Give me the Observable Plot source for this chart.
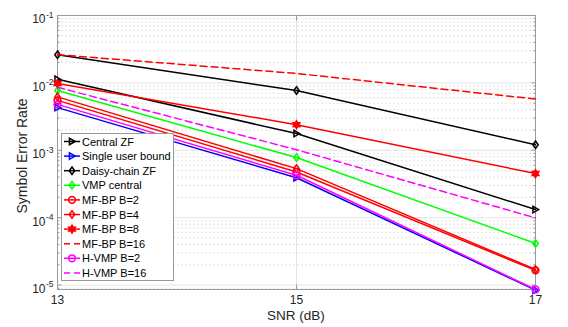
<!DOCTYPE html>
<html><head><meta charset="utf-8">
<script src="https://cdn.jsdelivr.net/npm/d3@7"></script>
<script src="https://cdn.jsdelivr.net/npm/@observablehq/plot@0.6"></script>
<style>body{margin:0;background:#fff}</style>
</head><body><div id="chart"></div>
<script>
// ---- data ----
const snr = [13, 15, 17];
const xTicks = [13, 15, 17];
const yTickExponents = [-1, -2, -3, -4, -5];
const seriesNames = ["Central ZF", "Single user bound", "Daisy-chain ZF", "VMP central", "MF-BP B=2", "MF-BP B=4", "MF-BP B=8", "MF-BP B=16", "H-VMP B=2", "H-VMP B=16"];
const centralZF  = [0.0113, 0.00177, 0.000132];
const singleUser = [0.0043, 0.000392, 0.0000084];
const daisyZF    = [0.0262, 0.0077, 0.00121];
const vmpCentral = [0.0077, 0.00078, 0.0000415];
const mfbp2      = [0.0055, 0.000477, 0.0000165];
const mfbp4      = [0.0062, 0.000535, 0.0000170];
const mfbp8      = [0.0098, 0.0024, 0.000452];
const mfbp16     = [0.0262, 0.0138, 0.00577];
const hvmp2      = [0.0048, 0.000426, 0.0000086];
const hvmp16     = [0.0086, 0.00102, 0.0000993];
const seriesValues = [centralZF, singleUser, daisyZF, vmpCentral, mfbp2, mfbp4, mfbp8, mfbp16, hvmp2, hvmp16];

// ---- styles ----
const seriesColors = ["#000000", "#0000ff", "#000000", "#00ff00", "#ff0000", "#ff0000", "#ff0000", "#ff0000", "#ff00ff", "#ff00ff"];
const seriesMarkers = ["triRight", "triRight", "diamond", "diamond", "circle", "diamond", "hexagram", null, "circle", null];
const seriesDashed = [false, false, false, false, false, false, false, true, false, true];

const symbols = {
  triRight: {draw(c, s) { const r = Math.sqrt(s / Math.PI); c.moveTo(0.95 * r, 0); c.lineTo(-0.75 * r, -0.95 * r); c.lineTo(-0.75 * r, 0.95 * r); c.closePath(); }},
  diamond: {draw(c, s) { const r = Math.sqrt(s / Math.PI); c.moveTo(0, -1.1 * r); c.lineTo(0.8 * r, 0); c.lineTo(0, 1.1 * r); c.lineTo(-0.8 * r, 0); c.closePath(); }},
  circle: {draw(c, s) { const r = Math.sqrt(s / Math.PI); c.moveTo(r, 0); c.arc(0, 0, r, 0, 2 * Math.PI); }},
  hexagram: {draw(c, s) { const r = Math.sqrt(s / Math.PI) * 1.15, ri = r * 0.58;
    for (let i = 0; i < 12; i++) { const a = -Math.PI / 2 + i * Math.PI / 6, rr = i % 2 ? ri : r;
      if (i === 0) c.moveTo(rr * Math.cos(a), rr * Math.sin(a)); else c.lineTo(rr * Math.cos(a), rr * Math.sin(a)); }
    c.closePath(); }}
};

const rows = [];
seriesNames.forEach((name, i) => snr.forEach((x, j) => rows.push({series: name, snr: x, ser: seriesValues[i][j]})));

const majorY = yTickExponents.map(e => Math.pow(10, e));
const yMin = 8.6e-6, yMax = 0.1;
const minorY = [];
for (let e = -6; e <= -2; e++) for (let m = 2; m <= 9; m++) { const v = m * Math.pow(10, e); if (v >= yMin && v <= yMax) minorY.push(v); }

const font = "'Liberation Sans', Arial, Helvetica, sans-serif";
const axisColor = "#999999";
const textColor = "#262626";

const marks = [
  Plot.ruleY(minorY, {stroke: "#d8d8d8", strokeWidth: 0.8, strokeDasharray: "2,2"}),
  Plot.ruleY(majorY, {stroke: "#e4e4e4", strokeWidth: 1}),
  Plot.ruleX(xTicks, {stroke: "#e4e4e4", strokeWidth: 1}),
  // inward ticks
  Plot.axisY({anchor: "left", ticks: minorY, tickSize: 2.5, dx: 2.5, tickFormat: () => "", stroke: axisColor, label: null}),
  Plot.axisY({anchor: "right", ticks: minorY, tickSize: 2.5, dx: -2.5, tickFormat: () => "", stroke: axisColor, label: null}),
  Plot.axisY({anchor: "left", ticks: majorY, tickSize: 4.5, dx: 4.5, tickFormat: () => "", stroke: axisColor, label: null}),
  Plot.axisY({anchor: "right", ticks: majorY, tickSize: 4.5, dx: -4.5, tickFormat: () => "", stroke: axisColor, label: null}),
  Plot.axisX({anchor: "bottom", ticks: xTicks, tickSize: 4.5, dy: -4.5, tickFormat: () => "", stroke: axisColor, label: null}),
  Plot.axisX({anchor: "top", ticks: xTicks, tickSize: 4.5, dy: 4.5, tickFormat: () => "", stroke: axisColor, label: null}),
  // x tick labels
  Plot.axisX({anchor: "bottom", ticks: xTicks, tickSize: 0, tickPadding: 6, tickFormat: d => String(d), fill: textColor, fontSize: 12, label: null}),
  // y tick labels 10^e
  Plot.text(majorY, {y: d => d, frameAnchor: "left", text: () => "10", textAnchor: "end", dx: -12, dy: 4, fill: textColor, fontSize: 12}),
  Plot.text(yTickExponents, {y: e => Math.pow(10, e), frameAnchor: "left", text: e => String(e), textAnchor: "start", dx: -11.5, dy: -0.5, fill: textColor, fontSize: 8.5}),
  Plot.frame({stroke: axisColor, strokeWidth: 1})
];

seriesNames.forEach((name, i) => {
  const data = rows.filter(r => r.series === name);
  const filled = seriesMarkers[i] === "hexagram";
  marks.push(Plot.line(data, {x: "snr", y: "ser", stroke: seriesColors[i], strokeWidth: 1.5, strokeDasharray: seriesDashed[i] ? "7,4" : null}));
  if (seriesMarkers[i]) marks.push(Plot.dot(data, {x: "snr", y: "ser", symbol: symbols[seriesMarkers[i]], r: 3.4, stroke: seriesColors[i], strokeWidth: 1.5, fill: filled ? seriesColors[i] : "none"}));
});

const chart = Plot.plot({
  width: 568, height: 327,
  marginLeft: 57, marginRight: 33, marginTop: 15, marginBottom: 38,
  x: {domain: [13, 17], axis: null},
  y: {type: "log", domain: [yMin, yMax], axis: null},
  style: {fontFamily: font, fontSize: "11px", background: "white", color: textColor, overflow: "visible"},
  marks
});
document.getElementById("chart").appendChild(chart);

// axis titles and legend (layout, not data)
const svg = d3.select(chart);
svg.append("text").attr("x", 296).attr("y", 320).attr("text-anchor", "middle")
  .attr("fill", textColor).style("font-family", font).style("font-size", "13.5px").text("SNR (dB)");
svg.append("text").attr("transform", "translate(26.5,156) rotate(-90)").attr("text-anchor", "middle")
  .attr("fill", textColor).style("font-family", font).style("font-size", "14px").text("Symbol Error Rate");

const lg = svg.append("g").attr("text-anchor", "start");
lg.append("rect").attr("x", 61.5).attr("y", 133.5).attr("width", 112).attr("height", 147)
  .attr("fill", "white").attr("stroke", axisColor).attr("stroke-width", 1);
seriesNames.forEach((name, i) => {
  const y = 141.5 + i * 14.6;
  const filled = seriesMarkers[i] === "hexagram";
  lg.append("line").attr("x1", 64).attr("x2", 80).attr("y1", y).attr("y2", y)
    .attr("stroke", seriesColors[i]).attr("stroke-width", 1.5)
    .attr("stroke-dasharray", seriesDashed[i] ? "6,4" : null);
  if (seriesMarkers[i]) {
    lg.append("path").attr("transform", `translate(72,${y})`)
      .attr("d", d3.symbol(symbols[seriesMarkers[i]], Math.PI * 3.4 * 3.4)())
      .attr("fill", filled ? seriesColors[i] : "none").attr("stroke", seriesColors[i]).attr("stroke-width", 1.5);
  }
  lg.append("text").attr("x", 82).attr("y", y + 4).attr("text-anchor", "start").attr("fill", "#000")
    .style("font-family", font).style("font-size", "11px").text(name);
});
</script>
</body></html>
